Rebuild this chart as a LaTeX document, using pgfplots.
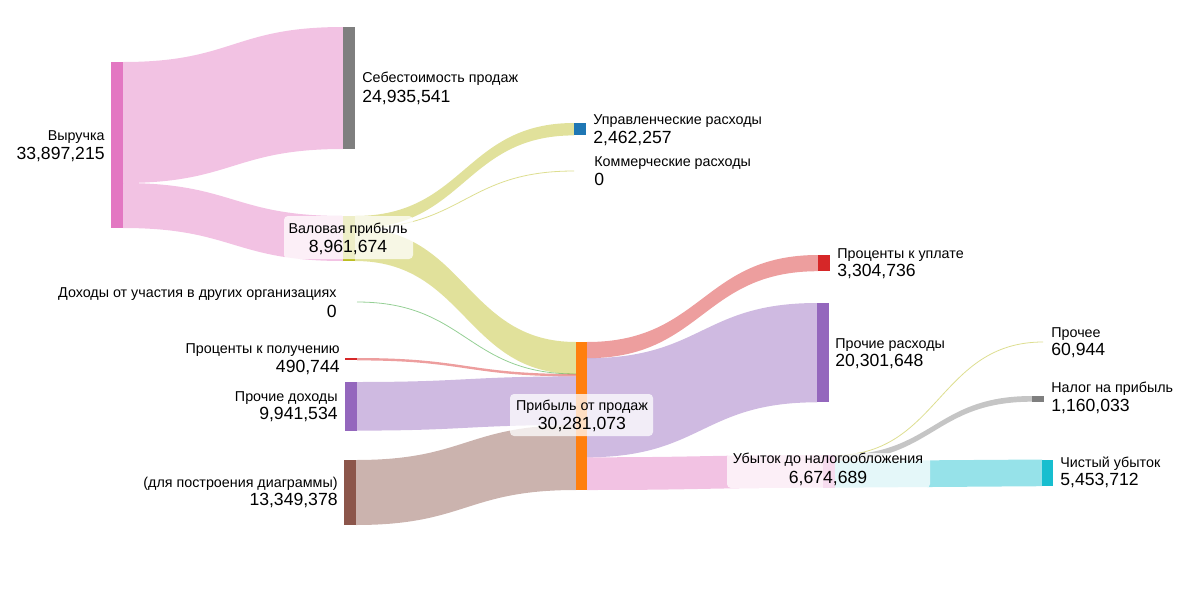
\documentclass[border=0pt]{standalone}
\usepackage{fontspec}
\setmainfont{Liberation Sans}
\usepackage{pgfplots}
\pgfplotsset{compat=1.18}

\definecolor{cpink}{HTML}{E377C2}
\definecolor{cgray}{HTML}{7F7F7F}
\definecolor{colive}{HTML}{BCBD22}
\definecolor{cblue}{HTML}{1F77B4}
\definecolor{cgreen}{HTML}{2CA02C}
\definecolor{cred}{HTML}{D62728}
\definecolor{cpurple}{HTML}{9467BD}
\definecolor{cbrown}{HTML}{8C564B}
\definecolor{corange}{HTML}{FF7F0E}
\definecolor{ccyan}{HTML}{17BECF}

% link band: x1, x2, source top, source bottom, target top, target bottom, colour
\newcommand{\lnk}[7]{%
  \fill[#7, fill opacity=0.45] (axis cs:#1,#3)
    .. controls (axis cs:{(#1+#2)/2},#3) and (axis cs:{(#1+#2)/2},#5) .. (axis cs:#2,#5)
    -- (axis cs:#2,#6)
    .. controls (axis cs:{(#1+#2)/2},#6) and (axis cs:{(#1+#2)/2},#4) .. (axis cs:#1,#4) -- cycle;}
% zero-valued link: a thin line
\newcommand{\zlnk}[5]{%
  \draw[#5, draw opacity=0.5, line width=0.4pt] (axis cs:#1,#3)
    .. controls (axis cs:{(#1+#2)/2},#3) and (axis cs:{(#1+#2)/2},#4) .. (axis cs:#2,#4);}
% node bar
\newcommand{\nbar}[5]{%
  \addplot[fill=#5, draw=none] coordinates {(#1,#3) (#2,#3) (#2,#4) (#1,#4)} -- cycle;}
% label: anchor side, x, label baseline, number baseline, label, number
\newcommand{\lab}[6]{%
  \node[anchor=base #1, inner sep=0pt] at (axis cs:#2,#3) {\fontsize{7.15}{9}\selectfont #5};
  \node[anchor=base #1, inner sep=0pt] at (axis cs:#2,#4) {\fontsize{8.8}{11}\selectfont #6};}
\newcommand{\lbox}[4]{%
  \fill[white, fill opacity=0.75, rounded corners=2pt] (axis cs:#1,#3) rectangle (axis cs:#2,#4);}

\begin{document}
\begin{tikzpicture}
\begin{axis}[
  width=600pt, height=300pt, scale only axis,
  xmin=0, xmax=1200, ymin=0, ymax=600, y dir=reverse,
  hide axis, clip=false]
\addplot[draw=none, mark=none] coordinates {(0,0) (1200,600)};

% links
\lnk{123}{343}{62}{183}{27}{149}{cpink}
\lnk{123}{343}{183}{228}{216}{261}{cpink}
\lnk{355}{574}{216}{228.4}{123}{135.4}{colive}
\zlnk{355}{574}{228.4}{171}{colive}
\lnk{355}{576}{228.4}{261}{342}{374}{colive}
\zlnk{357}{576}{302}{374}{cgreen}
\lnk{357}{576}{358}{360.4}{374}{376.4}{cred}
\lnk{357}{576}{382}{430.6}{376.4}{425}{cpurple}
\lnk{356}{576}{460}{525}{425}{490}{cbrown}
\lnk{587}{818}{342}{358.2}{255}{271.2}{cred}
\lnk{587}{817}{358.2}{457.3}{303}{402.3}{cpurple}
\lnk{587}{823}{457.3}{490}{455}{487.7}{cpink}
\zlnk{835}{1043}{455.3}{342}{colive}
\lnk{835}{1032}{455.3}{461}{396}{401.7}{cgray}
\lnk{835}{1042}{461}{487.7}{459.5}{486.2}{ccyan}

% nodes
\nbar{111}{123}{62}{228}{cpink}
\nbar{343}{355}{27}{149}{cgray}
\nbar{343}{355}{216}{261}{colive}
\nbar{574}{586}{123}{135.4}{cblue}
\nbar{345}{357}{358}{360.4}{cred}
\nbar{345}{357}{382}{430.6}{cpurple}
\nbar{344}{356}{460}{525}{cbrown}
\nbar{576}{587}{342}{490}{corange}
\nbar{818}{830}{255}{271.2}{cred}
\nbar{817}{829}{303}{402.3}{cpurple}
\nbar{823}{835}{455}{487.7}{cpink}
\nbar{1032}{1044}{396}{401.7}{cgray}
\nbar{1042}{1053}{459.5}{486.2}{ccyan}

% label boxes
\lbox{284}{413}{216}{259}
\lbox{510}{653}{394}{436}
\lbox{727}{930}{453}{488}

% labels
\lab{east}{105}{140}{159}{Выручка}{33,897,215}
\lab{west}{362}{82}{102}{Себестоимость продаж}{24,935,541}
\lab{west}{593}{124}{143}{Управленческие расходы}{2,462,257}
\lab{west}{594}{166}{185}{Коммерческие расходы}{0}
\lab{east}{337}{297}{317}{Доходы от участия в других организациях}{0}
\lab{east}{340}{353}{372}{Проценты к получению}{490,744}
\lab{east}{338}{401}{419}{Прочие доходы}{9,941,534}
\lab{east}{338}{487}{505}{(для построения диаграммы)}{13,349,378}
\lab{}{348}{233}{252}{Валовая прибыль}{8,961,674}
\lab{}{582}{410}{429}{Прибыль от продаж}{30,281,073}
\lab{west}{837}{258}{276}{Проценты к уплате}{3,304,736}
\lab{west}{835}{348}{366}{Прочие расходы}{20,301,648}
\lab{}{828}{463}{483}{Убыток до налогообложения}{6,674,689}
\lab{west}{1051}{337}{355}{Прочее}{60,944}
\lab{west}{1051}{392}{411}{Налог на прибыль}{1,160,033}
\lab{west}{1060}{467}{485}{Чистый убыток}{5,453,712}
\end{axis}
\end{tikzpicture}
\end{document}
